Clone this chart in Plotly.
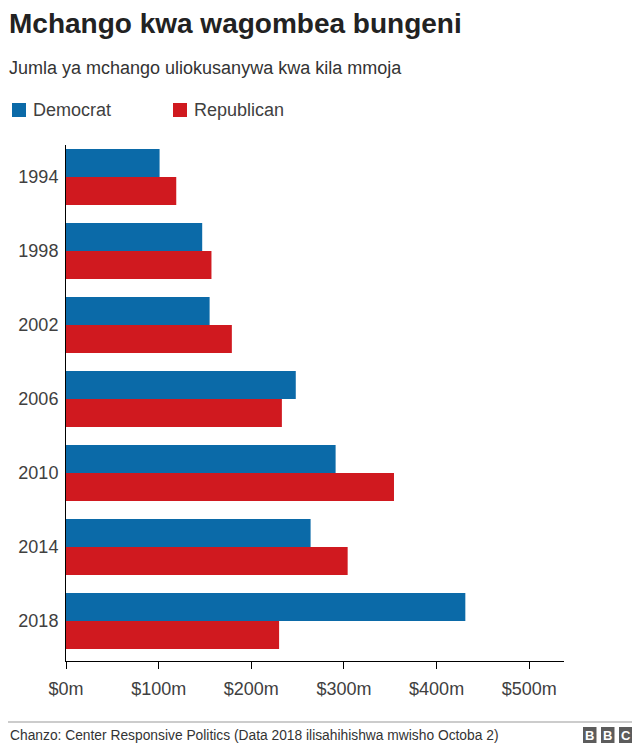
import plotly.graph_objects as go

years = ["1994", "1998", "2002", "2006", "2010", "2014", "2018"]
democrat = [101, 147, 155, 248, 291, 264, 431]
republican = [119, 157, 179, 233, 354, 304, 230]
series_names = ["Democrat", "Republican"]
x_ticks = [0, 100, 200, 300, 400, 500]
x_tick_labels = ["$0m", "$100m", "$200m", "$300m", "$400m", "$500m"]

BLUE = "#0b6aa8"
RED = "#d0191f"
FONT = "Liberation Sans, Arial, sans-serif"

W, H = 632, 738
L, R, T, B = 58, 76, 137, 85
PW, PH = W - L - R, H - T - B


def px(fx):
    return (fx - L) / PW


def py(fy):
    return (H - B - fy) / PH


fig = go.Figure()
fig.add_trace(go.Bar(y=years, x=democrat, name=series_names[0], orientation="h",
                     marker=dict(color=BLUE, line=dict(width=0))))
fig.add_trace(go.Bar(y=years, x=republican, name=series_names[1], orientation="h",
                     marker=dict(color=RED, line=dict(width=0))))

fig.update_layout(
    width=W, height=H,
    margin=dict(l=L, r=R, t=T, b=B, autoexpand=False),
    paper_bgcolor="white", plot_bgcolor="white",
    barmode="group", bargap=0.243, bargroupgap=0,
    font=dict(family=FONT, color="#404040", size=18),
    showlegend=False,
    xaxis=dict(range=[0, 537.5], tickvals=x_ticks, ticktext=x_tick_labels,
               showgrid=False, zeroline=False, showline=True, linecolor="black",
               linewidth=1, ticks="outside", ticklen=7, tickcolor="black",
               ticklabelstandoff=4,
               tickfont=dict(size=18, color="#404040")),
    yaxis=dict(type="category", categoryorder="array", categoryarray=years,
               range=[6.54, -0.432], showgrid=False, zeroline=False,
               showline=True, linecolor="black", linewidth=1, ticks="",
               ticklabelstandoff=3,
               tickfont=dict(size=18, color="#404040")),
)

# legend (drawn manually so it does not change the plot margins)
for name, color, lx in [(series_names[0], BLUE, 4), (series_names[1], RED, 165)]:
    fig.add_shape(type="rect", xref="paper", yref="paper",
                  x0=px(lx), x1=px(lx + 14), y0=py(109), y1=py(95),
                  fillcolor=color, line=dict(width=0))
    fig.add_annotation(text=name, xref="paper", yref="paper",
                       x=px(lx + 19), y=py(102), xanchor="left", yanchor="middle",
                       showarrow=False, font=dict(size=18, color="#404040", family=FONT))

fig.add_annotation(text="<b>Mchango kwa wagombea bungeni</b>", xref="paper", yref="paper",
                   x=px(-1), y=py(15), xanchor="left", yanchor="middle",
                   showarrow=False, font=dict(size=28, color="#222222", family=FONT))
fig.add_annotation(text="Jumla ya mchango uliokusanywa kwa kila mmoja", xref="paper", yref="paper",
                   x=px(-1), y=py(60), xanchor="left", yanchor="middle",
                   showarrow=False, font=dict(size=18, color="#333333", family=FONT))

# footer
fig.add_shape(type="line", xref="paper", yref="paper", x0=px(0), x1=px(W),
              y0=py(714), y1=py(714), line=dict(color="#999999", width=1))
fig.add_annotation(text="Chanzo: Center Responsive Politics (Data 2018 ilisahihishwa mwisho Octoba 2)",
                   xref="paper", yref="paper", x=px(0), y=py(727),
                   xanchor="left", yanchor="middle", showarrow=False,
                   font=dict(size=13.8, color="#333333", family=FONT))
for i, letter in enumerate(["B", "B", "C"]):
    x0 = 575 + i * 18
    fig.add_shape(type="rect", xref="paper", yref="paper",
                  x0=px(x0), x1=px(x0 + 13.5),
                  y0=py(735), y1=py(719),
                  fillcolor="#5c5c5c", line=dict(width=0))
    fig.add_annotation(text="<b>%s</b>" % letter, xref="paper", yref="paper",
                       x=px(x0 + 6.75), y=py(727), xanchor="center", yanchor="middle",
                       showarrow=False, font=dict(size=13, color="white", family=FONT))

fig.write_html("out.html")
